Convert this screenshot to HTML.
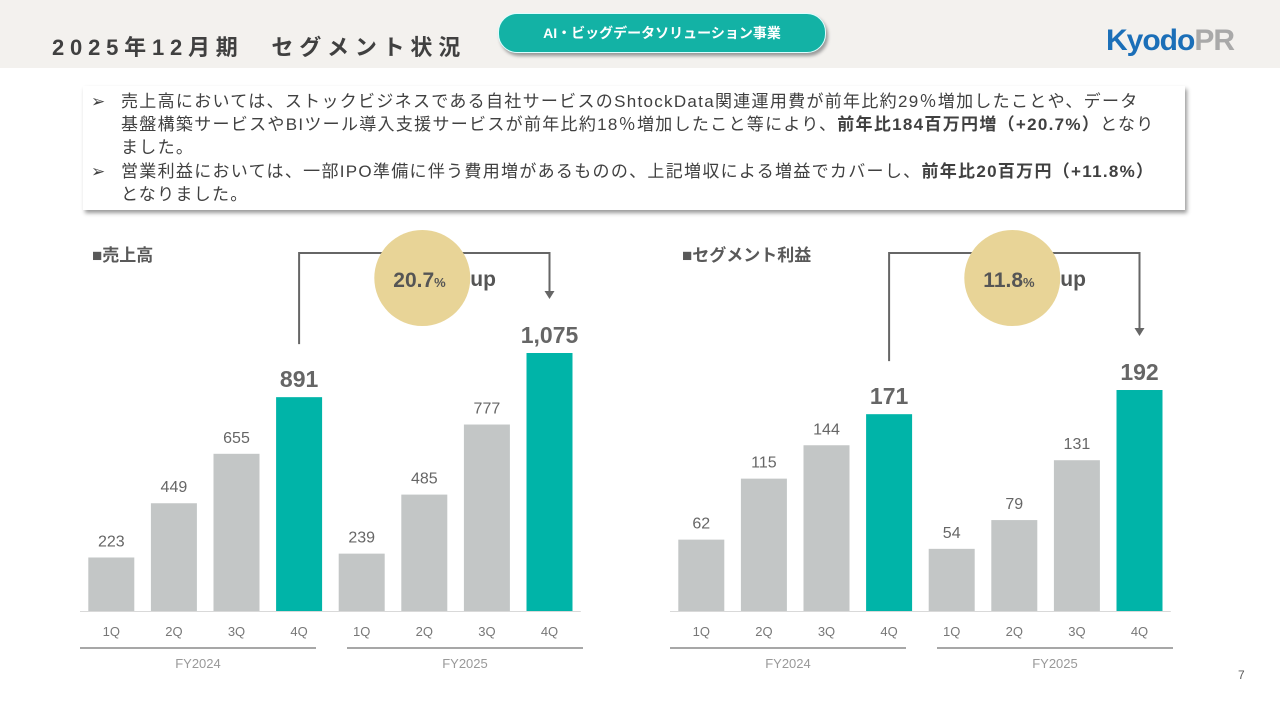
<!DOCTYPE html>
<html><head><meta charset="utf-8">
<style>
body{margin:0;width:1280px;height:720px;background:#fff;position:relative;overflow:hidden;font-family:"Liberation Sans","Noto Sans CJK JP",sans-serif;color:#595959}
.hdr{position:absolute;left:0;top:0;width:1280px;height:68px;background:#f3f1ee}
.title{position:absolute;left:52px;top:30px;font-size:22px;font-weight:bold;letter-spacing:5.8px;color:#404040}
.pill{position:absolute;left:498px;top:13px;width:326px;height:38px;border-radius:19px;background:#13b2a5;color:#fff;font-size:14px;font-weight:bold;text-align:center;line-height:38px;box-shadow:2px 3px 3px #9a9a9a;border:1px solid #dff}
.logo{position:absolute;left:1106px;top:24px;font-size:30px;font-weight:bold;letter-spacing:-1px}
.box{position:absolute;left:83px;top:86px;width:1102px;height:124px;background:#fff;box-shadow:2px 3px 4px #999}
.box p{margin:0;position:absolute;left:38px;font-size:17px;line-height:23px;color:#404040;width:1042px;letter-spacing:1.3px}
.box .ar{position:absolute;left:-30px}
svg{position:absolute;left:0;top:0}
.pg{position:absolute;left:1238px;top:668px;font-size:12px}
</style></head><body>
<div class="hdr"></div>
<div class="title">2025年12月期　セグメント状況</div>
<div class="pill">AI・ビッグデータソリューション事業</div>
<div class="logo"><span style="color:#1b6fb8">Kyodo</span><span style="color:#a9a9a9">PR</span></div>
<div class="box">
<p style="top:4px"><span class="ar">➢</span>売上高においては、ストックビジネスである自社サービスのShtockData関連運用費が前年比約29％増加したことや、データ<br>基盤構築サービスやBIツール導入支援サービスが前年比約18％増加したこと等により、<b>前年比184百万円増（+20.7%）</b>となり<br>ました。</p>
<p style="top:74px"><span class="ar">➢</span>営業利益においては、一部IPO準備に伴う費用増があるものの、上記増収による増益でカバーし、<b>前年比20百万円（+11.8%）</b><br>となりました。</p>
</div>
<svg id="ch" width="1280" height="720"></svg>
<div class="pg">7</div>
<script>
const quarters=["1Q","2Q","3Q","4Q","1Q","2Q","3Q","4Q"];
const years=["FY2024","FY2025"];
const salesValues=[223,449,655,891,239,485,777,1075];
const profitValues=[62,115,144,171,54,79,131,192];
const salesGrowth="20.7";
const profitGrowth="11.8";
const ns="http://www.w3.org/2000/svg";
const svg=document.getElementById('ch');
function mk(tag,attrs,txt){const e=document.createElementNS(ns,tag);for(const k in attrs)e.setAttribute(k,attrs[k]);if(txt!=null)e.textContent=txt;svg.appendChild(e);return e;}
function chart(x0,scale,vals,title,growth,prefix){
  const base=611,slot=62.6;
  const xs=i=>x0+slot*i+slot/2;
  const y=v=>base-v*scale;
  let t=mk('text',{x:x0+12,y:261,'font-size':17,'font-weight':'bold',fill:'#595959'},title);
  
  
  let ax=mk('line',{x1:x0,x2:x0+slot*8,y1:base+0.5,y2:base+0.5,stroke:'#d9d9d9'});
  
  
  vals.forEach((v,i)=>{
    const hi=i%4===3;
    const r=mk('rect',{x:xs(i)-23,y:y(v),width:46,height:base-y(v),fill:hi?'#00b4a8':'#c3c6c6'});
    
    
    const l=mk('text',{x:xs(i),y:y(v)-(hi?10:11),'text-anchor':'middle','font-size':hi?23:16,'font-weight':hi?'bold':'normal',fill:'#666'},v.toLocaleString('en-US'));
    
    
    const q=mk('text',{x:xs(i),y:636,'text-anchor':'middle','font-size':13,fill:'#777'},quarters[i]);
    
    
  });
  years.forEach((yr,k)=>{
    const a=x0+k*267, b=a+236;
    const ln=mk('line',{x1:a,x2:b,y1:648,y2:648,stroke:'#8a8a8a','stroke-width':1.5});
    
    
    const tx=mk('text',{x:(a+b)/2,y:668,'text-anchor':'middle','font-size':13,fill:'#999'},yr);
    
    
  });
  const xa=xs(3),xb=xs(7);
  const p=mk('path',{d:`M${xa},${y(vals[3])-53} V253 H${xb} V${y(vals[7])-62}`,fill:'none',stroke:'#666','stroke-width':2});
  
  
  const ah=mk('path',{d:`M${xb-5},${y(vals[7])-62} L${xb+5},${y(vals[7])-62} L${xb},${y(vals[7])-54} Z`,fill:'#666'});
  
  
  const cx=(xa+xb)/2-2;
  const c=mk('circle',{cx:cx,cy:278,r:48,fill:'#e8d497'});
  
  
  const gt=mk('text',{x:cx-29,y:287,'font-size':21,'font-weight':'bold',fill:'#555'});
  gt.innerHTML=growth+'<tspan font-size="13">%</tspan>';
  
  
  const up=mk('text',{x:cx+48,y:286,'font-size':21,'font-weight':'bold',fill:'#555'},'up');
  
  
}
chart(80,0.24,salesValues,'■売上高',salesGrowth,'sales');
chart(670,1.151,profitValues,'■セグメント利益',profitGrowth,'profit');
</script>
</body></html>
